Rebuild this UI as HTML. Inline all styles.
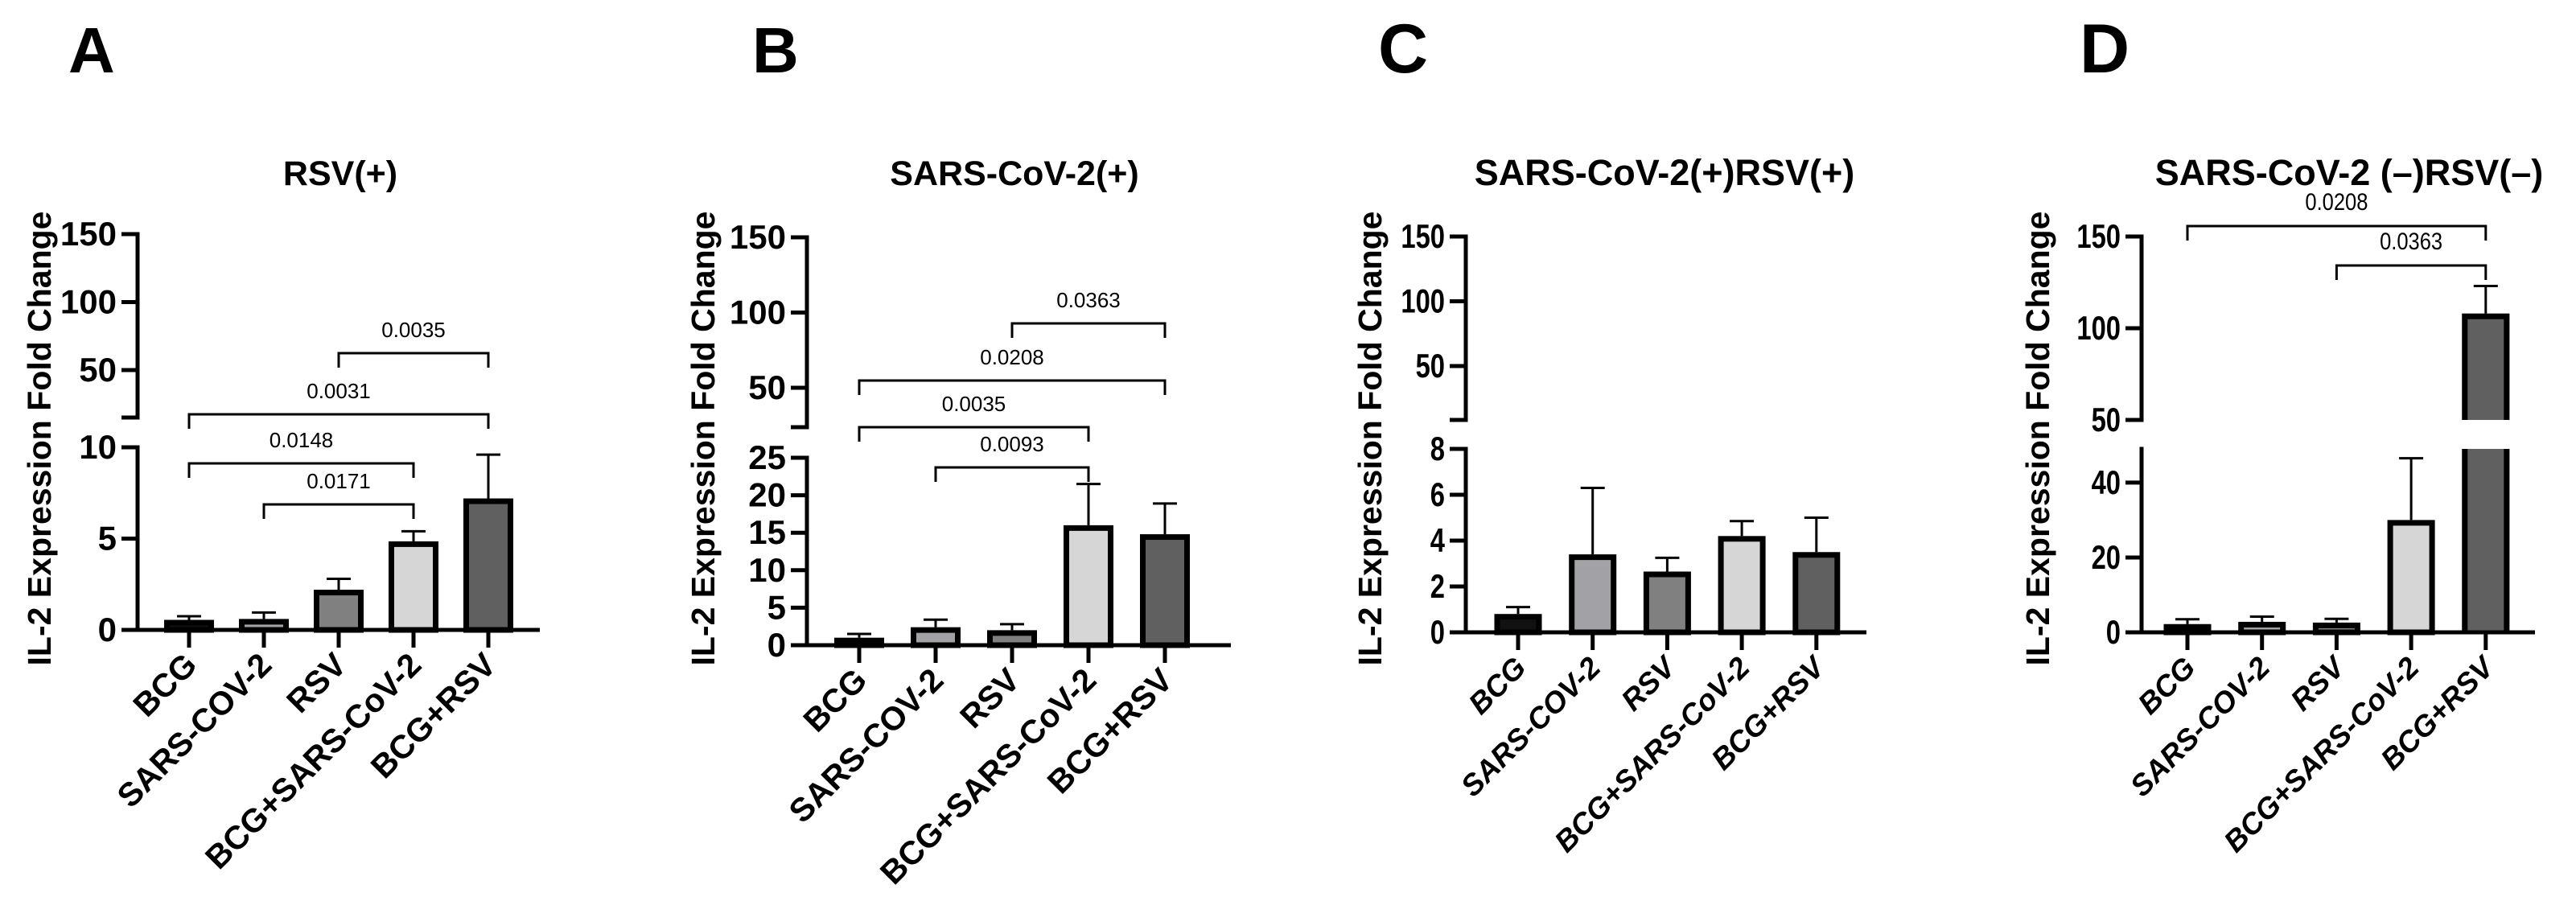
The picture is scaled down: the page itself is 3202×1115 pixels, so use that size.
<!DOCTYPE html>
<html><head><meta charset="utf-8">
<style>
html,body{margin:0;padding:0;background:#fff;}
svg{display:block;}
</style></head>
<body>
<svg id="fig" width="3202" height="1115" viewBox="0 0 3202 1115" xmlns="http://www.w3.org/2000/svg"></svg>
<script>
// ---- data ----
const categories = ["BCG","SARS-COV-2","RSV","BCG+SARS-CoV-2","BCG+RSV"];
const barColors = ["#111111","#a2a2a6","#808080","#d6d6d6","#606060"];
const valuesA = [0.55, 0.6, 2.2, 4.85, 7.2];
const errorsA = [0.2, 0.35, 0.6, 0.55, 2.4];
const valuesB = [1.0, 2.4, 2.0, 16.0, 14.8];
const errorsB = [0.5, 1.0, 0.8, 5.5, 4.1];
const valuesC = [0.8, 3.4, 2.65, 4.2, 3.5];
const errorsC = [0.3, 2.9, 0.6, 0.65, 1.5];
const valuesD = [2.2, 2.8, 2.6, 30, 108];
const errorsD = [1.3, 1.4, 1.0, 16.5, 15];
const upperTicksA = [50,100,150], lowerTicksA = [0,5,10];
const upperTicksB = [50,100,150], lowerTicksB = [0,5,10,15,20,25];
const upperTicksC = [50,100,150], lowerTicksC = [0,2,4,6,8];
const upperTicksD = [50,100,150], lowerTicksD = [0,20,40];
const sigA = [[2,4,"0.0035"],[0,4,"0.0031"],[0,3,"0.0148"],[1,3,"0.0171"]];
const sigB = [[2,4,"0.0363"],[0,4,"0.0208"],[0,3,"0.0035"],[1,3,"0.0093"]];
const sigC = [];
const sigD = [[0,4,"0.0208"],[2,4,"0.0363"]];

const NS="http://www.w3.org/2000/svg";
const svg=document.getElementById('fig');
function mk(tag,attrs,parent){const e=document.createElementNS(NS,tag);for(const k in attrs)e.setAttribute(k,attrs[k]);(parent||svg).appendChild(e);return e;}

const panels=[
 {id:'a',letter:'A',lx:85,title:'RSV(+)',tx:423,ax:171,x0:235,dx:93,xEnd:671,bw:62,
  upTop:291,upPx150:291,upPx50:460,breakY:519,lowTopY:556,zeroY:783,lowMax:10,
  values:valuesA,errors:errorsA,up:upperTicksA,low:lowerTicksA,sig:sigA,
  sigY:{"0.0035":439,"0.0031":515,"0.0148":576,"0.0171":627},ytx:49,narrow:false},
 {id:'b',letter:'B',lx:935,title:'SARS-CoV-2(+)',tx:1261,ax:1003,x0:1068,dx:95,xEnd:1530,bw:62,
  upTop:295,upPx150:295,upPx50:482,breakY:531,lowTopY:569,zeroY:802,lowMax:25,
  values:valuesB,errors:errorsB,up:upperTicksB,low:lowerTicksB,sig:sigB,
  sigY:{"0.0363":402,"0.0208":473,"0.0035":531,"0.0093":581},ytx:874,narrow:false},
 {id:'c',letter:'C',lx:1713,title:'SARS-CoV-2(+)RSV(+)',tx:2069,ax:1822,x0:1887,dx:92.7,xEnd:2320,bw:59,
  upTop:294,upPx150:294,upPx50:455,breakY:522,lowTopY:558,zeroY:786,lowMax:8,
  values:valuesC,errors:errorsC,up:upperTicksC,low:lowerTicksC,sig:sigC,sigY:{},ytx:1703,narrow:true},
 {id:'d',letter:'D',lx:2585,title:'SARS-CoV-2 (\u2013)RSV(\u2013)',tx:2920,ax:2662,x0:2719,dx:92.7,xEnd:3151,bw:59,
  upTop:294,upPx150:294,upPx50:522,breakY:522,lowTopY:558,zeroY:786,lowMax:49,
  values:valuesD,errors:errorsD,up:upperTicksD,low:lowerTicksD,sig:sigD,
  sigY:{"0.0208":281,"0.0363":330},ytx:2533,narrow:true}
];

const SANS='"Liberation Sans", Arial, sans-serif';
const NARROW='"Liberation Sans Narrow", "Liberation Sans", Arial, sans-serif';

panels.forEach(p=>{
  const g=mk('g',{});
  
  
  const yLow=v=>p.zeroY-(v/p.lowMax)*(p.zeroY-p.lowTopY);
  const upK=(p.upPx50-p.upPx150)/100;
  const yUp=v=>p.upPx50-(v-50)*upK;
  const xC=i=>p.x0+i*p.dx;
  const L=mk('text',{x:p.lx,y:90,'font-family':p.narrow?NARROW:SANS,'font-weight':'bold','font-size':p.narrow?86:80,fill:'#000'},g);
  L.textContent=p.letter;
  
  
  const T=mk('text',{x:p.tx,y:230,'text-anchor':'middle','font-family':p.narrow?NARROW:SANS,'font-weight':'bold','font-size':p.narrow?45:43,fill:'#000'},g);
  T.textContent=p.title;
  
  
  const yc=545;
  const YT=mk('text',{x:p.ytx+14,y:yc,transform:`rotate(-90 ${p.ytx+14} ${yc})`,'text-anchor':'middle','font-family':SANS,'font-weight':'bold','font-size':41,fill:'#000'},g);
  YT.textContent='IL-2 Expression Fold Change';
  
  
  p.values.forEach((v,i)=>{
    const cx=xC(i), half=p.bw/2;
    const bg=mk('g',{},g);
    
    
    const top=v+p.errors[i];
    const ey=(top<=p.lowMax)?yLow(top):yUp(top);
    if(v<=p.lowMax){
      const y=yLow(v);
      mk('line',{x1:cx,y1:y,x2:cx,y2:ey,stroke:'#000','stroke-width':3},bg);
      mk('line',{x1:cx-15,y1:ey,x2:cx+15,y2:ey,stroke:'#000','stroke-width':3},bg);
      mk('rect',{x:cx-half+3.5,y:y+3.5,width:p.bw-7,height:Math.max(0,p.zeroY-y-3.5),fill:barColors[i],stroke:'#000','stroke-width':7},bg);
    } else {
      const yu=yUp(v);
      mk('line',{x1:cx,y1:yu,x2:cx,y2:ey,stroke:'#000','stroke-width':3},bg);
      mk('line',{x1:cx-15,y1:ey,x2:cx+15,y2:ey,stroke:'#000','stroke-width':3},bg);
      mk('rect',{x:cx-half,y:p.lowTopY,width:p.bw,height:p.zeroY-p.lowTopY,fill:barColors[i]},bg);
      mk('line',{x1:cx-half+3.5,y1:p.lowTopY,x2:cx-half+3.5,y2:p.zeroY,stroke:'#000','stroke-width':7},bg);
      mk('line',{x1:cx+half-3.5,y1:p.lowTopY,x2:cx+half-3.5,y2:p.zeroY,stroke:'#000','stroke-width':7},bg);
      mk('rect',{x:cx-half,y:yu,width:p.bw,height:p.breakY-yu,fill:barColors[i]},bg);
      mk('path',{d:`M${cx-half+3.5},${p.breakY} V${yu+3.5} H${cx+half-3.5} V${p.breakY}`,fill:'none',stroke:'#000','stroke-width':7},bg);
    }
  });
  const ax=mk('g',{},g);
  
  
  mk('line',{x1:p.ax,y1:p.upTop-2.5,x2:p.ax,y2:p.breakY+2.5,stroke:'#000','stroke-width':5},ax);
  mk('line',{x1:p.ax-20,y1:p.breakY,x2:p.ax,y2:p.breakY,stroke:'#000','stroke-width':5},ax);
  mk('line',{x1:p.ax,y1:p.lowTopY-2.5,x2:p.ax,y2:p.zeroY,stroke:'#000','stroke-width':5},ax);
  const tfs=p.narrow?42:42;
  const sx=p.narrow?0.78:1;
  const tickLabel=(t,y)=>{
    mk('line',{x1:p.ax-20,y1:y,x2:p.ax,y2:y,stroke:'#000','stroke-width':5},ax);
    const tx=mk('text',{x:0,y:0,transform:`translate(${p.ax-26},${y+14}) scale(${sx},1)`,'text-anchor':'end','font-family':SANS,'font-weight':'bold','font-size':tfs,fill:'#000'},ax);
    tx.textContent=t;
  };
  p.up.forEach(t=>tickLabel(t,yUp(t)));
  p.low.forEach(t=>tickLabel(t,yLow(t)));
  const xa=mk('g',{},g);
  
  
  mk('line',{x1:p.ax-2.5,y1:p.zeroY,x2:p.xEnd,y2:p.zeroY,stroke:'#000','stroke-width':5},xa);
  categories.forEach((c,i)=>{
    const cx=xC(i);
    mk('line',{x1:cx,y1:p.zeroY,x2:cx,y2:p.zeroY+22,stroke:'#000','stroke-width':5},xa);
    const lx=cx+12, ly=p.zeroY+46;
    const t=mk('text',{x:lx,y:ly,transform:`rotate(-45 ${lx} ${ly})`,'text-anchor':'end','font-family':SANS,'font-weight':'bold','font-style':p.narrow?'italic':'normal','font-size':p.narrow?37:41,fill:'#000'},xa);
    t.textContent=c;
    
    
  });
  p.sig.forEach(s=>{
    const y=p.sigY[s[2]];
    const x1=xC(s[0]), x2=xC(s[1]);
    const sg=mk('g',{},g);
    
    
    mk('path',{d:`M${x1},${y+18} V${y} H${x2} V${y+18}`,fill:'none',stroke:'#000','stroke-width':3},sg);
    const t=mk('text',{x:0,y:0,transform:`translate(${(x1+x2)/2},${y-20}) scale(${p.narrow?0.85:1},1)`,'text-anchor':'middle','font-family':SANS,'font-size':p.narrow?30:26,fill:'#000'},sg);
    t.textContent=s[2];
  });
});
</script>
</body></html>
